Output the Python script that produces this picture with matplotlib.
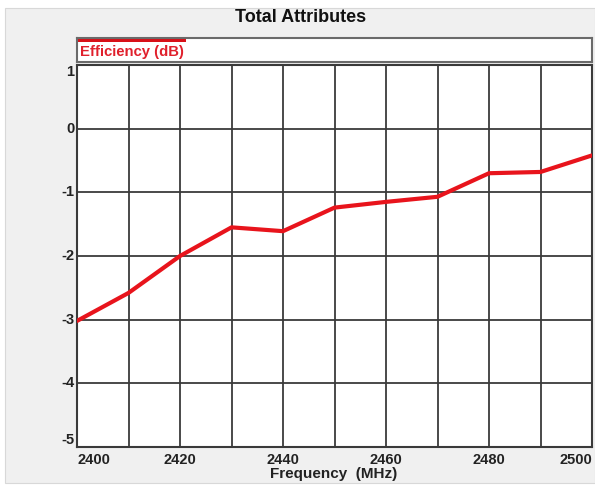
import matplotlib
matplotlib.use("Agg")
import matplotlib.pyplot as plt
from matplotlib.patches import Rectangle

plt.rcParams['font.family'] = ['Liberation Sans', 'DejaVu Sans']

freq = [2400, 2410, 2420, 2430, 2440, 2450, 2460, 2470, 2480, 2490, 2500]
efficiency_db = [-3.02, -2.58, -2.0, -1.55, -1.61, -1.24, -1.15, -1.07, -0.70, -0.68, -0.42]
x_ticks = [2400, 2420, 2440, 2460, 2480, 2500]
y_ticks = [1, 0, -1, -2, -3, -4, -5]
title = "Total Attributes"
series_name = "Efficiency (dB)"
x_label = "Frequency  (MHz)"

W, H = 595, 486
fig = plt.figure(figsize=(W / 100, H / 100), dpi=100)
fig.patch.set_facecolor('white')
# gray panel background
fig.patches.append(Rectangle((5 / W, 3 / H), (W - 5) / W, (H - 3 - 8) / H,
                             transform=fig.transFigure, facecolor='#f0f0f0',
                             edgecolor='#d8d8d8', lw=0.8, zorder=-10))

red = '#e8141c'
grid_c = '#3a3a3a'

ax = fig.add_axes([77 / W, (H - 447) / H, (592 - 77) / W, (447 - 65) / H])
ax.set_facecolor('white')
ax.plot(freq, efficiency_db, color=red, lw=3.0, solid_capstyle='round', zorder=3)
ax.set_xlim(2400, 2500)
ax.set_ylim(-5, 1)
ax.set_xticks(freq)
ax.set_yticks(y_ticks)
ax.grid(True, color=grid_c, lw=1.3)
ax.tick_params(length=0, pad=3)
for s in ax.spines.values():
    s.set_color(grid_c)
    s.set_linewidth(1.5)

# x tick labels (only every 20 MHz)
ax.set_xticklabels([])
ax.set_yticklabels([])
for xv in x_ticks:
    ha = 'center'
    if xv == x_ticks[0]:
        ha = 'left'
    elif xv == x_ticks[-1]:
        ha = 'right'
    ax.annotate(str(xv), xy=(xv, 0), xycoords=('data', 'axes fraction'),
                xytext=(0, -4), textcoords='offset points', ha=ha, va='top',
                fontsize=10.5, fontweight='bold', color='#222222')
for yv in y_ticks:
    va = 'center'
    if yv == y_ticks[0]:
        va = 'top'
    elif yv == y_ticks[-1]:
        va = 'bottom'
    ax.annotate(str(yv), xy=(0, yv), xycoords=('axes fraction', 'data'),
                xytext=(-2, 0), textcoords='offset points', ha='right', va=va,
                fontsize=10.5, fontweight='bold', color='#222222')

fig.text(334 / W, 1 - 474 / H, x_label, ha='center', va='center',
         fontsize=11, fontweight='bold', color='#222222')

fig.text(301 / W, 1 - 17 / H, title, ha='center', va='center',
         fontsize=13, fontweight='bold', color='#111111')

# legend box
lax = fig.add_axes([77 / W, (H - 62) / H, (592 - 77) / W, 24 / H])
lax.set_xlim(0, 1)
lax.set_ylim(0, 1)
lax.set_xticks([])
lax.set_yticks([])
lax.set_facecolor('white')
for s in lax.spines.values():
    s.set_color('#6a6a6a')
    s.set_linewidth(1.5)
lax.add_patch(Rectangle((1 / 515, 1 - 4 / 24), 108 / 515, 4 / 24,
                        transform=lax.transAxes, facecolor='#d81018', edgecolor='none'))
lax.text(3 / 515, 0.40, series_name, transform=lax.transAxes, ha='left', va='center',
         fontsize=10.7, fontweight='bold', color='#e0202c')

fig.savefig('out.png', dpi=100, facecolor=fig.get_facecolor())
